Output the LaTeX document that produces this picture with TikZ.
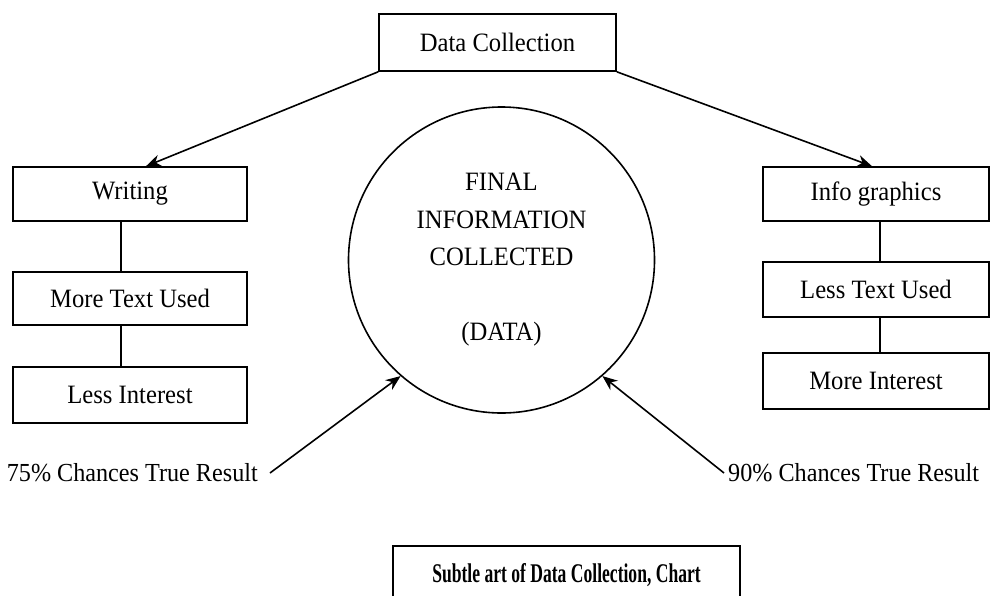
\documentclass[tikz,border=0pt]{standalone}
\usepackage{fontspec}
\setmainfont{Liberation Serif}[FakeStretch=0.93]
\usetikzlibrary{arrows.meta,calc}
\begin{document}
\begin{tikzpicture}[x=1pt,y=-1pt,
  box/.style={draw, line width=1.6pt, minimum width=234pt, inner sep=0pt, font=\fontsize{26.5}{30}\selectfont},
  link/.style={line width=1.6pt},
  arr/.style={line width=1.6pt, -{Stealth[length=15pt,width=12pt]}},
  lbl/.style={inner sep=0pt, font=\fontsize{26}{30}\selectfont}]
\useasboundingbox (0,0) rectangle (990,595);
\clip (0,0) rectangle (990,595);
\node[box, minimum width=237pt, minimum height=57pt] (dc) at (497.5,42.5) {Data Collection};
\node[box, minimum height=54pt] (wr) at (130,194) {Writing};
\node[box, minimum height=53pt] (mt) at (130,298.5) {More Text Used};
\node[box, minimum height=56pt] (li) at (130,395) {Less Interest};
\node[box, minimum width=226pt, minimum height=54pt] (ig) at (876,194) {Info graphics};
\node[box, minimum width=226pt, minimum height=55pt] (lt) at (876,289.5) {Less Text Used};
\node[box, minimum width=226pt, minimum height=56pt] (mi) at (876,381) {More Interest};
\node[draw, circle, line width=1.6pt, minimum size=306pt, inner sep=0pt, align=center,
      font=\fontsize{26.5}{37.5}\selectfont] (circ) at (501.5,260)
      {FINAL\\INFORMATION\\COLLECTED\\[37.5pt](DATA)};
\node[lbl, anchor=east] (l75) at (258,473) {75\% Chances True Result};
\node[lbl, anchor=west] (l90) at (728,473) {90\% Chances True Result};
\node[draw, line width=1.6pt, minimum width=347pt, minimum height=58pt, anchor=north,
      font=\bfseries\fontsize{27}{30}\selectfont] (tt) at (566.5,545) {\scalebox{0.7}[1]{Subtle art of Data Collection, Chart}};
\draw[arr] (dc.south west) -- ([xshift=16pt]wr.north);
\draw[arr] (dc.south east) -- ([xshift=-4pt]ig.north);
\draw[link] ([xshift=-9pt]wr.south) -- ([xshift=-9pt]mt.north);
\draw[link] ([xshift=-9pt]mt.south) -- ([xshift=-9pt]li.north);
\draw[link] ([xshift=4pt]ig.south) -- ([xshift=4pt]lt.north);
\draw[link] ([xshift=4pt]lt.south) -- ([xshift=4pt]mi.north);
\draw[arr] ([xshift=12pt]l75.east) -- (circ.229);
\draw[arr] ([xshift=-4pt]l90.west) -- (circ.311);
\end{tikzpicture}
\end{document}
